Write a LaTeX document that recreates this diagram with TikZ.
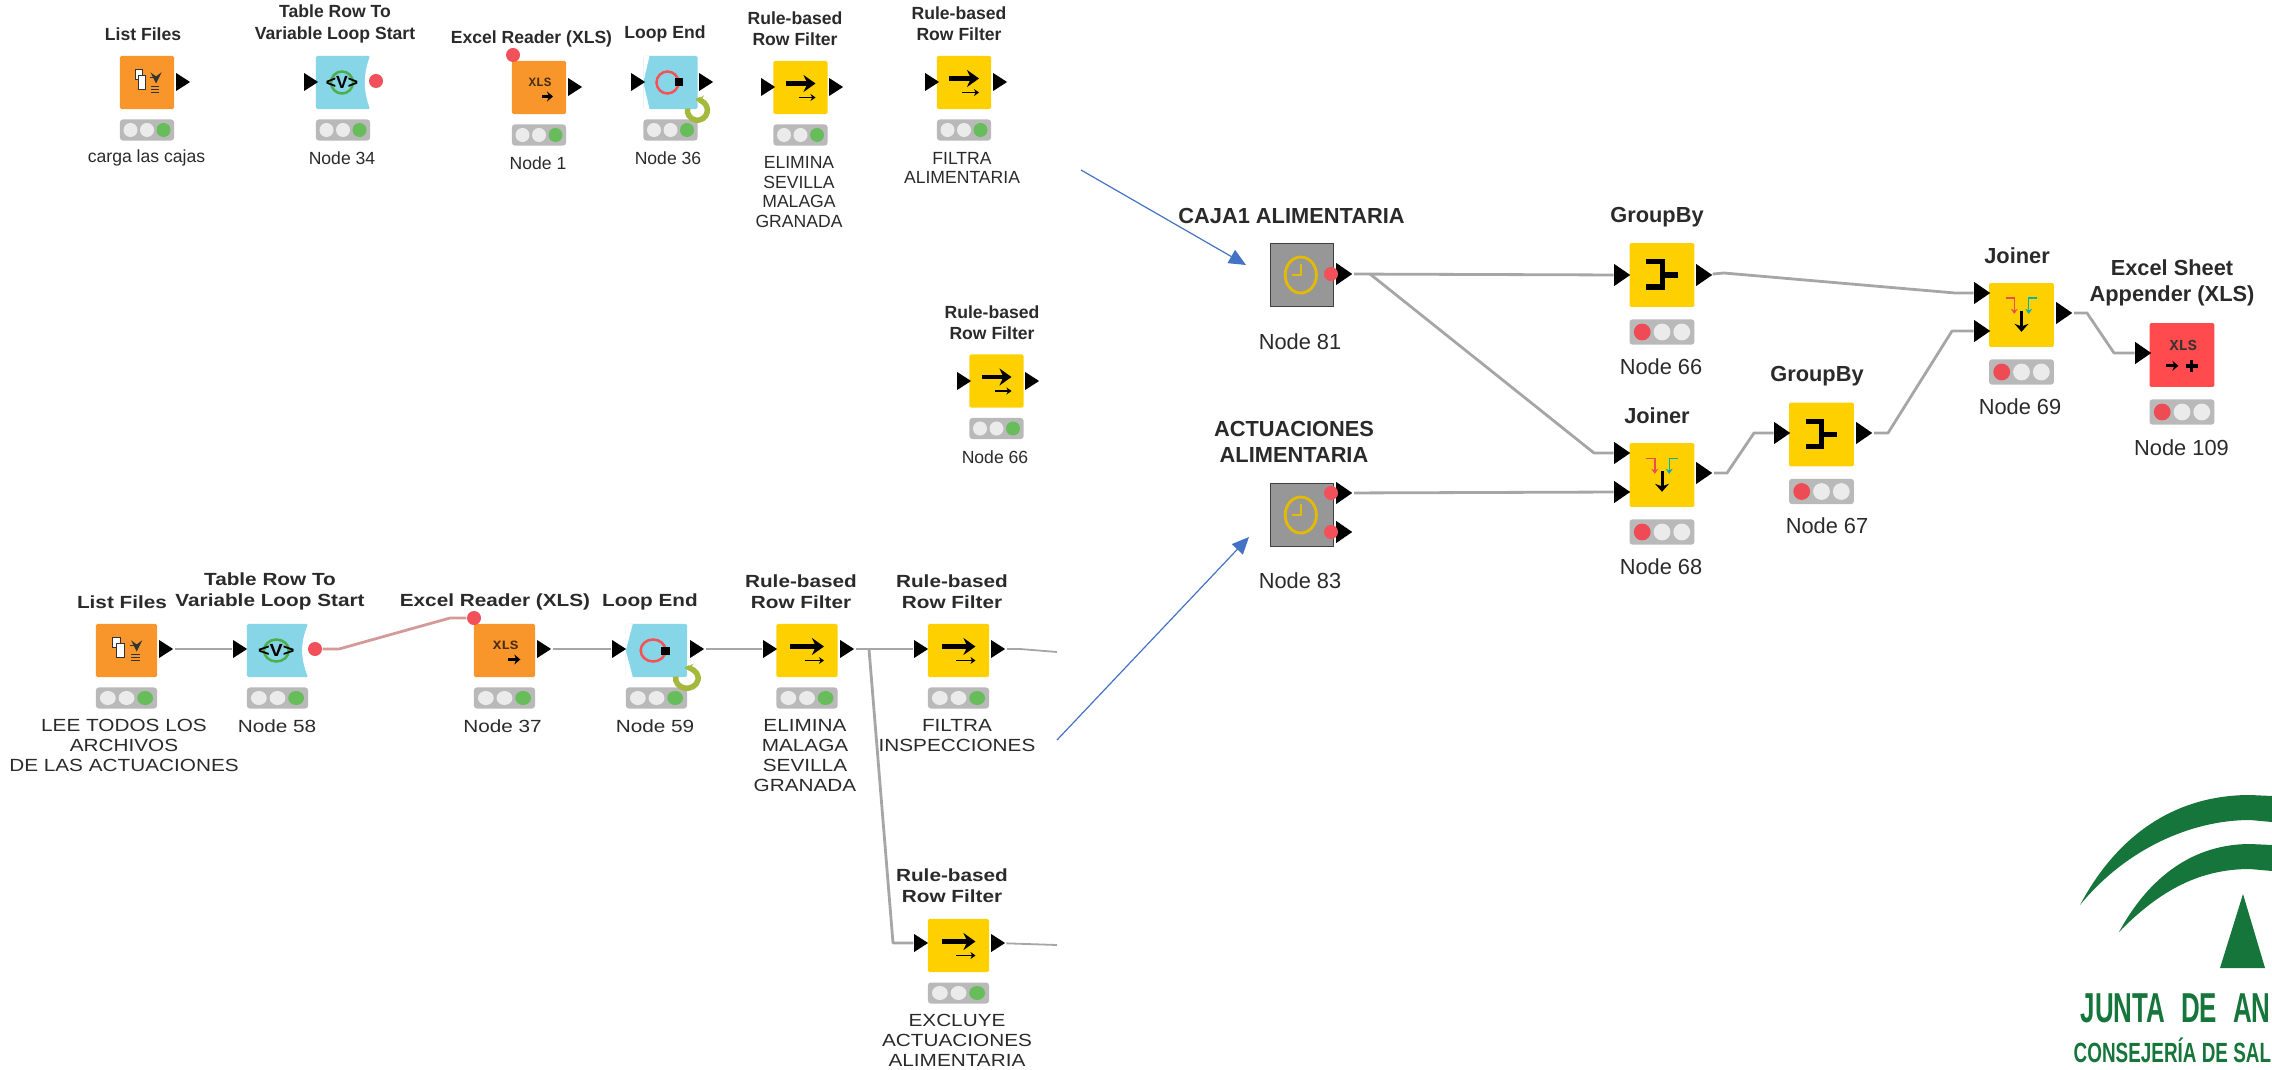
\documentclass[tikz,border=0pt]{standalone}
\usepackage{fontspec}
\setmainfont{Liberation Sans}
\setmonofont{Liberation Mono}
\newfontfamily\lowfont[FakeStretch=1.18]{Liberation Sans}
\usetikzlibrary{arrows.meta,shapes.geometric}
\definecolor{orangebody}{HTML}{F8962C}
\definecolor{cyanbody}{HTML}{86D6E8}
\definecolor{yellowbody}{HTML}{FFD000}
\definecolor{redbody}{HTML}{FF4B4D}
\definecolor{graybody}{HTML}{979797}
\definecolor{lampgray}{HTML}{B9B9B9}
\definecolor{lampoff}{HTML}{EBEBEB}
\definecolor{lampgreen}{HTML}{66BD5A}
\definecolor{lampred}{HTML}{EE4B55}
\definecolor{portred}{HTML}{F2505A}
\definecolor{linkgray}{HTML}{A6A6A6}
\definecolor{linkred}{HTML}{D49A9A}
\definecolor{bluearrow}{HTML}{4472C4}
\definecolor{juntagreen}{HTML}{16753A}
\definecolor{loopgreen}{HTML}{A4B83C}
\definecolor{textdark}{HTML}{2A2A2A}
\tikzset{
  body/.style={rectangle,rounded corners=0.4pt,minimum width=0.54cm,minimum height=0.53cm,inner sep=0pt},
  orangenode/.style={body,fill=orangebody},
  cyannode/.style={body,fill=cyanbody},
  yellownode/.style={body,fill=yellowbody},
  rednode/.style={body,fill=redbody},
  metanode/.style={rectangle,minimum width=0.53cm,minimum height=0.53cm,inner sep=0pt,fill=graybody,draw=black!75,line width=0.25pt},
  lamp/.style={rectangle,rounded corners=0.8pt,minimum width=0.54cm,minimum height=0.21cm,inner sep=0pt,fill=lampgray},
  lampdot/.style={circle,minimum size=0.14cm,inner sep=0pt,fill=lampoff},
  toprow/.style={},
  lowrow/.style={xscale=1.13},
  bigrow/.style={scale=1.2},
  port/.style={isosceles triangle,isosceles triangle stretches,shape border uses incircle=false,fill=black,inner sep=0pt,minimum height=0.14cm,minimum width=0.18cm},
  bigport/.style={port,minimum height=0.16cm,minimum width=0.22cm},
  varport/.style={circle,minimum size=0.14cm,inner sep=0pt,fill=portred},
  link/.style={draw=linkgray,line width=0.028cm,line join=round},
  varlink/.style={draw=linkred,line width=0.028cm,line join=round},
  blueline/.style={draw=bluearrow,line width=0.012cm,-{Triangle[length=0.17cm,width=0.15cm]}},
  titletext/.style={font=\bfseries\fontsize{5}{6}\selectfont,align=center,inner sep=0pt,text=textdark},
  labeltext/.style={font=\fontsize{5}{5.65}\selectfont,align=center,inner sep=0pt,text=textdark},
  lowtitle/.style={titletext,font=\lowfont\bfseries\fontsize{5}{6}\selectfont},
  lowlabel/.style={labeltext,font=\lowfont\fontsize{5}{5.65}\selectfont},
  bigtitle/.style={font=\bfseries\fontsize{6.2}{7.4}\selectfont,align=center,inner sep=0pt,text=textdark},
  biglabel/.style={font=\fontsize{6.2}{7.4}\selectfont,align=center,inner sep=0pt,text=textdark},
}
% body, status lamp and icon of one workflow node
\newcommand{\knimenode}[8]{
  \begin{scope}[shift={(#2,#3)},#4,transform shape]
    \node[#5] (#1) at (0,0) {};
    \node[lamp] (#1lamp) at (0,47.5) {};
    \node[lampdot,fill=#6] (#1a) at (-16.5,47.5) {};
    \node[lampdot] (#1b) at (0,47.5) {};
    \node[lampdot,fill=#7] (#1c) at (16.5,47.5) {};
    #8
  \end{scope}
}
\newcommand{\iconlist}{
  \draw[black!80,fill=white,line width=0.01cm] (-12,-13) rectangle (-5,-3);
  \draw[black!80,fill=white,line width=0.01cm] (-9,-7) rectangle (-2,7);
  \draw[black!80,line width=0.014cm,-stealth] (3,-5) -- (9,-5) -- (9,1);
  \foreach \i in {4,7,10} \draw[black!80,line width=0.014cm] (4,\i) -- (12,\i);
}
\newcommand{\iconstart}{
  \fill[white] (27.2,-26.7) .. controls (20,-8) and (20,8) .. (27.2,26.7) -- (28,26.7) -- (28,-26.7) -- cycle;
  \draw[green!55!black!70,line width=0.025cm] (-1,0) circle (11);
  \node[font=\bfseries\fontsize{5}{6}\selectfont,inner sep=0pt] (var) at (-1,0) {<V>};
}
\newcommand{\iconend}{
  \fill[white] (-27.2,-26.7) -- (-21,-26.7) -- (-27.2,0) -- (-21,26.7) -- (-27.2,26.7) -- cycle;
  \draw[red!50!lampred!80,line width=0.025cm] (-3,0) circle (11);
  \fill[black] (4,-4) rectangle (12,4);
  \draw[loopgreen,line width=0.055cm,-{Stealth[length=0.09cm]}] (17,26) arc (190:-100:10);
}
\newcommand{\iconrule}{
  \draw[black,line width=0.045cm,-{Stealth[length=0.12cm,width=0.17cm]}] (-15,-4) -- (15,-4);
  \draw[black,line width=0.014cm,-{Stealth[length=0.05cm,width=0.07cm]}] (-2,10) -- (15,10);
}
\newcommand{\iconxls}{
  \node[font=\bfseries\ttfamily\fontsize{3.6}{4}\selectfont,text=black!70!orangebody,inner sep=0pt] (xlstext) at (1,-5) {XLS};
  \draw[black,line width=0.024cm,-{Stealth[length=0.06cm,width=0.1cm]}] (3,9) -- (14,9);
}
\newcommand{\icongroup}{
  \draw[black,line width=0.05cm] (-13,-11) -- (0,-11) -- (0,10) -- (-13,10);
  \draw[black,line width=0.05cm] (0,0) -- (13,0);
}
\newcommand{\iconjoin}{
  \draw[lampred,line width=0.014cm,-{Stealth[length=0.05cm,width=0.07cm]}] (-13,-14) -- (-6,-14) -- (-6,-1);
  \draw[teal!60!cyan,line width=0.014cm,-{Stealth[length=0.05cm,width=0.07cm]}] (13,-14) -- (6,-14) -- (6,-1);
  \draw[black,line width=0.03cm,-{Stealth[length=0.08cm,width=0.14cm]}] (0,-3) -- (0,14);
}
\newcommand{\iconappend}{
  \node[font=\bfseries\ttfamily\fontsize{3.6}{4}\selectfont,text=black!80,inner sep=0pt] (xlstext) at (1,-8) {XLS};
  \draw[black,line width=0.03cm,-{Stealth[length=0.06cm,width=0.1cm]}] (-13,9) -- (-3,9);
  \draw[black,line width=0.035cm] (3,9) -- (13,9);
  \draw[black,line width=0.035cm] (8,4) -- (8,14);
}
\newcommand{\iconclock}{
  \draw[yellowbody!90!black,line width=0.028cm] (-1,0) ellipse (13 and 15);
  \draw[yellowbody!90!black,line width=0.014cm] (-1,-9) -- (-1,0) -- (-8,0);
}
\begin{document}
\begin{tikzpicture}[x=0.01cm,y=-0.01cm]
  \useasboundingbox (0,0) rectangle (2272,1070);

  % top row
  \knimenode{listA}{147}{82.5}{toprow}{orangenode}{lampoff}{lampgreen}{\iconlist}
  \knimenode{startA}{343}{82.5}{toprow}{cyannode}{lampoff}{lampgreen}{\iconstart}
  \knimenode{readA}{539}{87.5}{toprow}{orangenode}{lampoff}{lampgreen}{\iconxls}
  \knimenode{endA}{670.5}{82.5}{toprow}{cyannode}{lampoff}{lampgreen}{\iconend}
  \knimenode{ruleA}{800.5}{87.5}{toprow}{yellownode}{lampoff}{lampgreen}{\iconrule}
  \knimenode{ruleB}{964}{82.5}{toprow}{yellownode}{lampoff}{lampgreen}{\iconrule}
  \knimenode{ruleC}{996.5}{381}{toprow}{yellownode}{lampoff}{lampgreen}{\iconrule}
  \node[port] (listAo) at (181,82) {};
  \node[port] (startAi) at (309,82) {};
  \node[varport] (startAv) at (376,81) {};
  \node[varport] (readAv) at (513,55) {};
  \node[port] (readAo) at (573,87) {};
  \node[port] (endAi) at (636,82) {};
  \node[port] (endAo) at (704,82) {};
  \node[port] (ruleAi) at (766,87) {};
  \node[port] (ruleAo) at (834,87) {};
  \node[port] (ruleBi) at (930,82) {};
  \node[port] (ruleBo) at (998,82) {};
  \node[port] (ruleCi) at (962,381) {};
  \node[port] (ruleCo) at (1030,381) {};
  \node[titletext] (listAt) at (143,34) {List Files};
  \node[titletext] (startAt) at (335,24) {Table Row To\\Variable Loop Start};
  \node[titletext] (readAt) at (531.5,39) {Excel Reader (XLS)};
  \node[titletext] (endAt) at (665,34) {Loop End};
  \node[titletext] (ruleAt) at (795,28.5) {Rule-based\\Row Filter};
  \node[titletext] (ruleBt) at (959,23.5) {Rule-based\\Row Filter};
  \node[titletext] (ruleCt) at (992,322.5) {Rule-based\\Row Filter};
  \node[labeltext] (listAl) at (146.5,158) {carga las cajas};
  \node[labeltext] (startAl) at (342,158) {Node 34};
  \node[labeltext] (readAl) at (538,163) {Node 1};
  \node[labeltext] (endAl) at (668,158) {Node 36};
  \node[labeltext] (ruleAl) at (799,192) {ELIMINA\\SEVILLA\\MALAGA\\GRANADA};
  \node[labeltext] (ruleBl) at (962,168) {FILTRA\\ALIMENTARIA};
  \node[labeltext] (ruleCl) at (995,457) {Node 66};

  % lower row
  \knimenode{listB}{126.5}{650.5}{lowrow}{orangenode}{lampoff}{lampgreen}{\iconlist}
  \knimenode{startB}{277.5}{650.5}{lowrow}{cyannode}{lampoff}{lampgreen}{\iconstart}
  \knimenode{readB}{504.5}{650.5}{lowrow}{orangenode}{lampoff}{lampgreen}{\iconxls}
  \knimenode{endB}{656.5}{650.5}{lowrow}{cyannode}{lampoff}{lampgreen}{\iconend}
  \knimenode{ruleD}{807}{650.5}{lowrow}{yellownode}{lampoff}{lampgreen}{\iconrule}
  \knimenode{ruleE}{958.5}{650.5}{lowrow}{yellownode}{lampoff}{lampgreen}{\iconrule}
  \knimenode{ruleF}{958.5}{945.5}{lowrow}{yellownode}{lampoff}{lampgreen}{\iconrule}
  \node[port] (listBo) at (164,649) {};
  \node[port] (startBi) at (238,649) {};
  \node[varport] (startBv) at (315,649) {};
  \node[varport] (readBv) at (474,618) {};
  \node[port] (readBo) at (542,649) {};
  \node[port] (endBi) at (617,649) {};
  \node[port] (endBo) at (695,649) {};
  \node[port] (ruleDi) at (768,649) {};
  \node[port] (ruleDo) at (845,649) {};
  \node[port] (ruleEi) at (919,649) {};
  \node[port] (ruleEo) at (996,649) {};
  \node[port] (ruleFi) at (919,943) {};
  \node[port] (ruleFo) at (996,943) {};
  \coordinate (ruleEe) at (1057,652);
  \coordinate (ruleFe) at (1057,945);
  \coordinate (fork) at (869,649);
  \node[lowtitle] (listBt) at (122,602) {List Files};
  \node[lowtitle] (startBt) at (270,591.5) {Table Row To\\Variable Loop Start};
  \node[lowtitle] (readBt) at (495,602) {Excel Reader (XLS)};
  \node[lowtitle] (endBt) at (650,602) {Loop End};
  \node[lowtitle] (ruleDt) at (801,591.5) {Rule-based\\Row Filter};
  \node[lowtitle] (ruleEt) at (952,591.5) {Rule-based\\Row Filter};
  \node[lowtitle] (ruleFt) at (952,885.5) {Rule-based\\Row Filter};
  \node[lowlabel] (listBl) at (124,745.5) {LEE TODOS LOS\\ARCHIVOS\\DE LAS ACTUACIONES};
  \node[lowlabel] (startBl) at (277,726) {Node 58};
  \node[lowlabel] (readBl) at (502.5,726) {Node 37};
  \node[lowlabel] (endBl) at (655,726) {Node 59};
  \node[lowlabel] (ruleDl) at (805,755.5) {ELIMINA\\MALAGA\\SEVILLA\\GRANADA};
  \node[lowlabel] (ruleEl) at (957,735.5) {FILTRA\\INSPECCIONES};
  \node[lowlabel] (ruleFl) at (957,1040) {EXCLUYE\\ACTUACIONES\\ALIMENTARIA};

  \draw[link] (listBo) -- (startBi);
  \draw[varlink] (startBv) -- (339,649) -- (450,618) -- (readBv);
  \draw[link] (readBo) -- (endBi);
  \draw[link] (endBo) -- (ruleDi);
  \draw[link] (ruleDo) -- (ruleEi);
  \draw[link] (fork) -- (893,943) -- (ruleFi);
  \draw[link,line width=0.018cm] (ruleEo) -- (1020,649) -- (ruleEe);
  \draw[link,line width=0.018cm] (ruleFo) -- (ruleFe);

  % right part
  \knimenode{groupA}{1662}{275}{bigrow}{yellownode}{lampred}{lampoff}{\icongroup}
  \knimenode{joinA}{1662}{475}{bigrow}{yellownode}{lampred}{lampoff}{\iconjoin}
  \knimenode{groupB}{1821.5}{434.5}{bigrow}{yellownode}{lampred}{lampoff}{\icongroup}
  \knimenode{joinB}{2021.5}{315}{bigrow}{yellownode}{lampred}{lampoff}{\iconjoin}
  \knimenode{sheetA}{2182}{355}{bigrow}{rednode}{lampred}{lampoff}{\iconappend}
  \begin{scope}[shift={(1302,275)},bigrow,transform shape]
    \node[metanode] (cajaA) at (0,0) {};
    \iconclock
  \end{scope}
  \begin{scope}[shift={(1302,515)},bigrow,transform shape]
    \node[metanode] (actuA) at (0,0) {};
    \iconclock
  \end{scope}
  \node[bigport] (cajaAo) at (1342,274) {};
  \node[varport] (cajaAv) at (1331,274) {};
  \node[bigport] (actuAo) at (1342,493) {};
  \node[varport] (actuAv) at (1331,493) {};
  \node[bigport] (actuAp) at (1342,532) {};
  \node[varport] (actuAw) at (1331,532) {};
  \node[bigport] (groupAi) at (1620,275) {};
  \node[bigport] (groupAo) at (1702,275) {};
  \node[bigport] (joinAi) at (1620,453) {};
  \node[bigport] (joinAj) at (1620,492) {};
  \node[bigport] (joinAo) at (1702,473) {};
  \node[bigport] (groupBi) at (1780,433) {};
  \node[bigport] (groupBo) at (1862,433) {};
  \node[bigport] (joinBi) at (1980,293) {};
  \node[bigport] (joinBj) at (1980,331) {};
  \node[bigport] (joinBo) at (2062,313) {};
  \node[bigport] (sheetAi) at (2141,353) {};
  \coordinate (cajaF) at (1370,274);
  \node[bigtitle] (cajaAt) at (1291.5,216) {CAJA1 ALIMENTARIA};
  \node[bigtitle] (actuAt) at (1294,442) {ACTUACIONES\\ALIMENTARIA};
  \node[bigtitle] (groupAt) at (1657,217) {GroupBy};
  \node[bigtitle] (joinAt) at (1657,416) {Joiner};
  \node[bigtitle] (groupBt) at (1817,376) {GroupBy};
  \node[bigtitle] (joinBt) at (2017,256) {Joiner};
  \node[bigtitle] (sheetAt) at (2172,283) {Excel Sheet\\Appender (XLS)};
  \node[biglabel] (cajaAl) at (1300,342) {Node 81};
  \node[biglabel] (actuAl) at (1300,581) {Node 83};
  \node[biglabel] (groupAl) at (1661,367) {Node 66};
  \node[biglabel] (joinAl) at (1661,567) {Node 68};
  \node[biglabel] (groupBl) at (1827,526) {Node 67};
  \node[biglabel] (joinBl) at (2020,407) {Node 69};
  \node[biglabel] (sheetAl) at (2181.5,448) {Node 109};

  \draw[link] (cajaAo) -- (groupAi);
  \draw[link] (cajaF) -- (1594,453) -- (joinAi);
  \draw[link] (actuAo) -- (joinAj);
  \draw[link] (groupAo) -- (1724,273) -- (1955,293) -- (joinBi);
  \draw[link] (joinAo) -- (1727,473) -- (1754,433) -- (groupBi);
  \draw[link] (groupBo) -- (1888,433) -- (1952,331) -- (joinBj);
  \draw[link] (joinBo) -- (2087,313) -- (2114,353) -- (sheetAi);

  % blue arrows
  \coordinate (blueA) at (1081,170);
  \coordinate (blueAe) at (1246,265);
  \coordinate (blueB) at (1057,740);
  \coordinate (blueBe) at (1249,537);
  \draw[blueline] (blueA) -- (blueAe);
  \draw[blueline] (blueB) -- (blueBe);

  % logo
  \fill[juntagreen] (2080,905) .. controls (2120,830) and (2180,795) .. (2250,795) -- (2272,796) -- (2272,822) -- (2250,820) .. controls (2190,820) and (2125,850) .. cycle;
  \fill[juntagreen] (2119,932) .. controls (2150,875) and (2195,844) .. (2250,844) -- (2272,845) -- (2272,871) -- (2250,869) .. controls (2200,869) and (2160,890) .. cycle;
  \fill[juntagreen] (2243,894) -- (2265,968) -- (2220,968) -- cycle;
  \node[anchor=west,inner sep=0pt,text=juntagreen,font=\bfseries\fontsize{11.9}{12}\selectfont] (juntaA) at (2080,1008) {\scalebox{0.62}[1]{\spaceskip=7.3pt JUNTA DE AN}};
  \node[anchor=west,inner sep=0pt,text=juntagreen,font=\bfseries\fontsize{7.9}{8}\selectfont] (juntaB) at (2073,1050) {\scalebox{0.68}[1]{CONSEJERÍA DE SAL}};
\end{tikzpicture}
\end{document}
